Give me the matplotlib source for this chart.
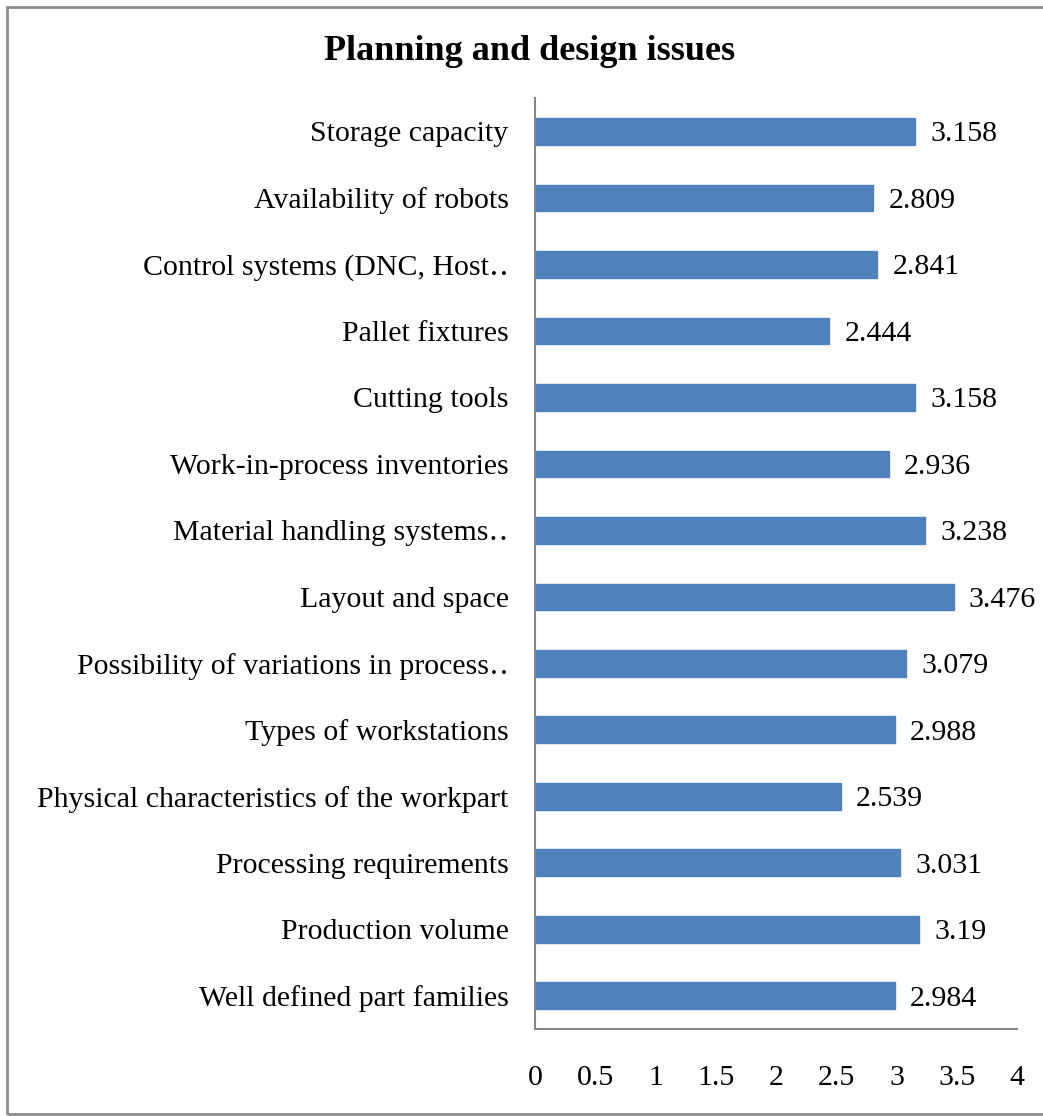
import matplotlib.pyplot as plt
from matplotlib.patches import Rectangle

categories = [
    "Storage capacity",
    "Availability of robots",
    "Control systems (DNC, Host\u2025",
    "Pallet fixtures",
    "Cutting tools",
    "Work-in-process inventories",
    "Material handling systems\u2025",
    "Layout and space",
    "Possibility of variations in process\u2025",
    "Types of workstations",
    "Physical characteristics of the workpart",
    "Processing requirements",
    "Production volume",
    "Well defined part families",
]
values = [3.158, 2.809, 2.841, 2.444, 3.158, 2.936, 3.238, 3.476,
          3.079, 2.988, 2.539, 3.031, 3.19, 2.984]
value_labels = ["3.158", "2.809", "2.841", "2.444", "3.158", "2.936", "3.238",
                "3.476", "3.079", "2.988", "2.539", "3.031", "3.19", "2.984"]
x_ticks = [0, 0.5, 1, 1.5, 2, 2.5, 3, 3.5, 4]
x_tick_labels = ["0", "0.5", "1", "1.5", "2", "2.5", "3", "3.5", "4"]

plt.rcParams['font.family'] = ['Liberation Serif', 'DejaVu Serif']

fig = plt.figure(figsize=(10.43, 11.16), dpi=100)
ax = fig.add_axes([0.513, 0.078, 0.462, 0.834])

pos = list(range(len(categories)))
ax.barh(pos, values, height=0.4, color='#4F81BD', edgecolor='#4F81BD')
for p, v, lab in zip(pos, values, value_labels):
    ax.text(v + 0.125, p, lab, va='center_baseline', ha='left', fontsize=21.5)

ax.set_ylim(len(categories) - 0.5, -0.5)
ax.set_xlim(0, 4)
ax.set_yticks(pos)
ax.set_yticklabels(categories, fontsize=21.5)
ax.set_xticks(x_ticks)
ax.set_xticklabels(x_tick_labels, fontsize=21.5)
ax.tick_params(axis='y', length=0, pad=19)
ax.tick_params(axis='x', length=0, pad=26)
for t in ax.get_yticklabels():
    t.set_verticalalignment('center_baseline')

for s in ['top', 'right']:
    ax.spines[s].set_visible(False)
for s in ['left', 'bottom']:
    ax.spines[s].set_color('#868686')
    ax.spines[s].set_linewidth(1.5)

fig.text(0.508, 0.954, "Planning and design issues", ha='center', va='center',
         fontsize=26, fontweight='bold')

# outer chart border
fig.add_artist(Rectangle((0.007, 0.002), 1.2, 0.992, transform=fig.transFigure,
                         fill=False, edgecolor='#8c8c8c', linewidth=2))

fig.savefig('out.png', dpi=100)
